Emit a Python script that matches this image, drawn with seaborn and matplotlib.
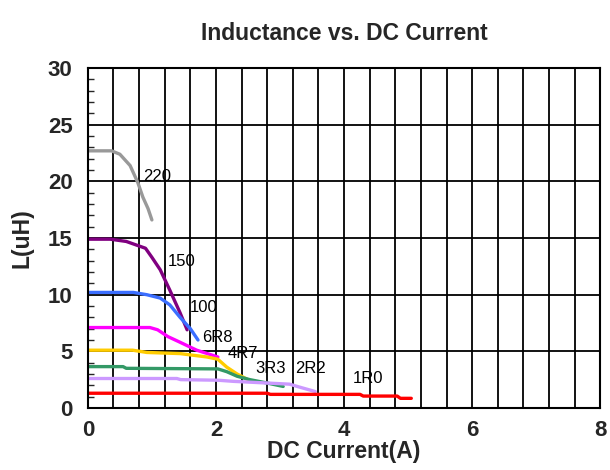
import pandas as pd
import numpy as np
import matplotlib.pyplot as plt
import seaborn as sns
from matplotlib.ticker import MultipleLocator

# curve data (x = DC current A, y = inductance uH)
x_220 = [0, 0.37, 0.5, 0.66, 0.78, 0.86, 0.94, 1.0]
y_220 = [22.7, 22.7, 22.4, 21.4, 19.9, 18.6, 17.6, 16.6]

x_150 = [0, 0.35, 0.6, 0.9, 1.0, 1.13, 1.28, 1.44, 1.55]
y_150 = [14.9, 14.9, 14.7, 14.1, 13.3, 12.2, 10.4, 8.4, 6.9]

x_100 = [0, 0.71, 0.92, 1.13, 1.28, 1.44, 1.6, 1.72]
y_100 = [10.2, 10.2, 10.0, 9.7, 9.1, 8.0, 7.0, 6.0]

x_6r8 = [0, 0.97, 1.09, 1.25, 1.44, 1.7, 2.03]
y_6r8 = [7.1, 7.1, 6.9, 6.3, 5.8, 5.1, 4.5]

x_4r7 = [0, 0.7, 0.92, 1.44, 1.86, 2.03, 2.17, 2.33, 2.5]
y_4r7 = [5.1, 5.1, 4.9, 4.8, 4.5, 4.3, 3.6, 3.0, 2.5]

x_3r3 = [0, 0.55, 0.6, 2.03, 2.17, 2.33, 2.53, 2.8, 3.05]
y_3r3 = [3.65, 3.65, 3.5, 3.45, 3.2, 2.8, 2.5, 2.2, 1.9]

x_2r2 = [0, 1.39, 1.45, 2.03, 2.27, 2.8, 3.15, 3.3, 3.55]
y_2r2 = [2.6, 2.6, 2.5, 2.45, 2.35, 2.2, 2.1, 1.85, 1.45]

x_1r0 = [0, 2.8, 2.85, 4.25, 4.3, 4.83, 4.88, 5.05]
y_1r0 = [1.3, 1.3, 1.2, 1.2, 1.05, 1.05, 0.85, 0.85]

names = ["220", "150", "100", "6R8", "4R7", "3R3", "2R2", "1R0"]
xs = [x_220, x_150, x_100, x_6r8, x_4r7, x_3r3, x_2r2, x_1r0]
ys = [y_220, y_150, y_100, y_6r8, y_4r7, y_3r3, y_2r2, y_1r0]
colors = ["#999999", "#800080", "#3b6eff", "#ff00ff", "#ffcc00", "#339966", "#cc99ff", "#ff0000"]

# where each curve name sits (left edge x, centre y)
label_x = [0.86, 1.25, 1.59, 1.78, 2.19, 2.61, 3.23, 4.14]
label_y = [20.4, 12.9, 8.9, 6.2, 4.85, 3.45, 3.5, 2.6]

df = pd.concat([pd.DataFrame({"I": x, "L": y, "part": n}) for n, x, y in zip(names, xs, ys)])

sns.set_style("white")
plt.rcParams["font.family"] = ["Liberation Sans", "DejaVu Sans"]

fig = plt.figure(figsize=(6.1, 4.7), dpi=100)
ax = fig.add_axes([0.144, 0.132, 0.84, 0.723])

ax.set_xlim(0, 8)
ax.set_ylim(0, 30)
ax.grid(True, color="black", linewidth=1.3)
ax.set_axisbelow(True)

sns.lineplot(data=df, x="I", y="L", hue="part", hue_order=names, palette=colors,
             sort=False, estimator=None, linewidth=2.4, legend=False, ax=ax)

for n, lx, ly in zip(names, label_x, label_y):
    ax.text(lx, ly, n, fontsize=12, color="black", va="center")

# grid every 0.4 A, labels only every 2 A
xt = np.arange(0, 8.01, 0.4)
ax.set_xticks(xt)
ax.set_xticklabels([f"{v:g}" if abs(v / 2 - round(v / 2)) < 1e-6 else "" for v in xt])
ax.yaxis.set_major_locator(MultipleLocator(5))
ax.tick_params(axis="x", length=0, pad=9)
ax.yaxis.set_minor_locator(MultipleLocator(1))
ax.tick_params(axis="y", which="minor", direction="in", length=4, left=True, width=1)
ax.tick_params(axis="y", which="major", length=0, pad=11)
for lab in ax.get_xticklabels() + ax.get_yticklabels():
    lab.set_fontweight("bold")
    lab.set_fontsize(16)

for s in ax.spines.values():
    s.set_color("black")
    s.set_linewidth(1.5)

ax.set_xlabel("DC Current(A)", fontsize=16.5, fontweight="bold", labelpad=-1)
ax.set_ylabel("L(uH)", fontsize=16.5, fontweight="bold", labelpad=10)
ax.set_title("Inductance vs. DC Current", fontsize=16.5, fontweight="bold", pad=20)

fig.savefig("out.png", dpi=100)
